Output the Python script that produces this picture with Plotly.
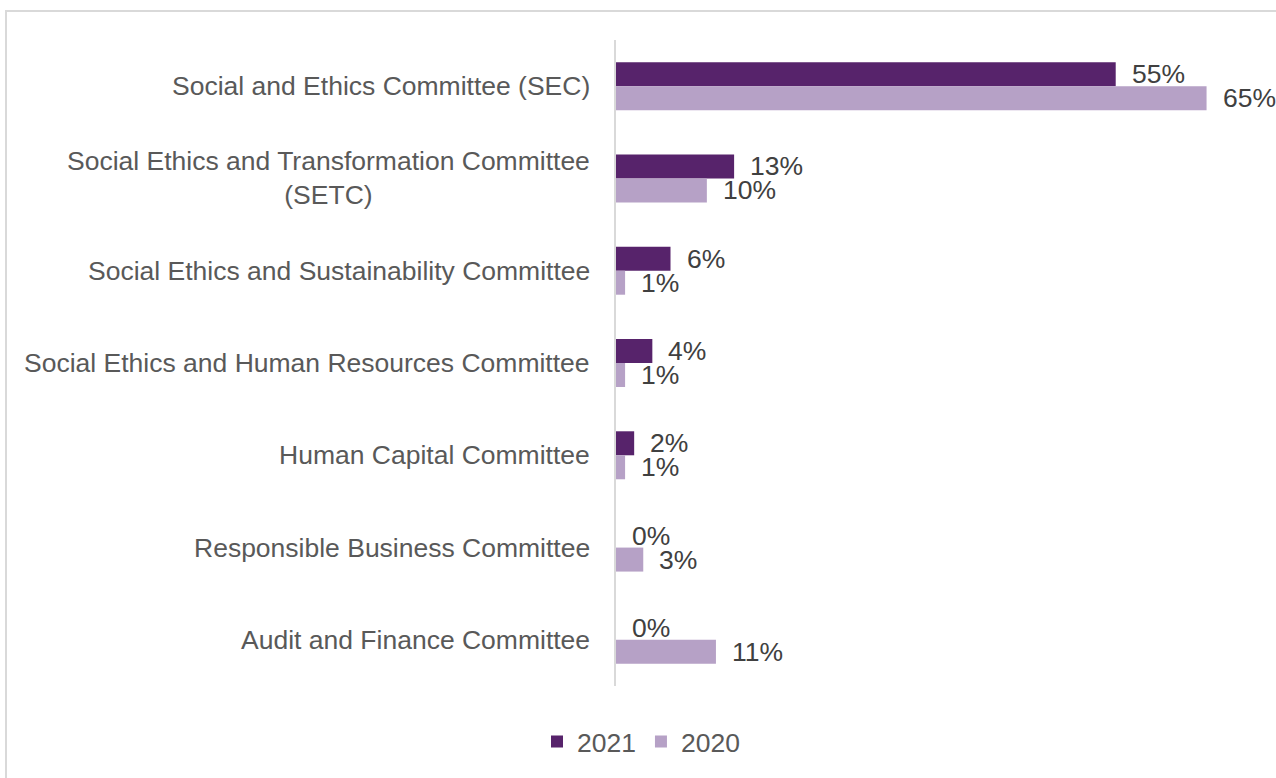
import plotly.graph_objects as go

# Committee names (top to bottom) and share of companies per year (%)
categories = [
    "Social and Ethics Committee (SEC)",
    "Social Ethics and Transformation Committee<br>(SETC)",
    "Social Ethics and Sustainability Committee",
    "Social Ethics and Human Resources Committee",
    "Human Capital Committee",
    "Responsible Business Committee",
    "Audit and Finance Committee",
]
values_2021 = [55, 13, 6, 4, 2, 0, 0]
values_2020 = [65, 10, 1, 1, 1, 3, 11]
series_names = ["2021", "2020"]

COLOR_2021 = "#57236B"
COLOR_2020 = "#B6A1C6"
LABEL_COLOR = "#595959"
VALUE_COLOR = "#404040"
FONT = "Liberation Sans, Arial, sans-serif"
FONT_SIZE = 26.5

W, H = 1276, 778
M_L, M_R, M_T, M_B = 616, 24, 40, 90
plot_w = W - M_L - M_R
plot_h = H - M_T - M_B

fig = go.Figure()
fig.add_trace(go.Bar(
    name=series_names[0], y=categories, x=values_2021, orientation="h",
    marker=dict(color=COLOR_2021, line=dict(width=0)), hoverinfo="skip",
))
fig.add_trace(go.Bar(
    name=series_names[1], y=categories, x=values_2020, orientation="h",
    marker=dict(color=COLOR_2020, line=dict(width=0)), hoverinfo="skip",
))

bar_half = 0.13  # half of one bar's thickness in category units
annotations = []
for i, cat in enumerate(categories):
    # category label, centred lines for wrapped names
    annotations.append(dict(
        xref="paper", yref="y", x=0, y=i, text=cat, showarrow=False,
        xanchor="right", yanchor="middle", align="center", xshift=-24,
        font=dict(family=FONT, size=FONT_SIZE, color=LABEL_COLOR),
    ))
    for vals, off in ((values_2021, -bar_half), (values_2020, bar_half)):
        annotations.append(dict(
            xref="x", yref="y", x=vals[i], y=i + off, text=f"{vals[i]}%",
            showarrow=False, xanchor="left", yanchor="middle", xshift=14,
            font=dict(family=FONT, size=FONT_SIZE, color=VALUE_COLOR),
        ))

fig.update_layout(
    width=W, height=H,
    margin=dict(l=M_L, r=M_R, t=M_T, b=M_B, pad=0),
    paper_bgcolor="white", plot_bgcolor="white",
    barmode="group", bargap=0.48, bargroupgap=0,
    font=dict(family=FONT, size=FONT_SIZE, color=LABEL_COLOR),
    xaxis=dict(range=[0, 70], visible=False, fixedrange=True),
    yaxis=dict(
        autorange="reversed", showticklabels=False, ticks="",
        showgrid=False, zeroline=False,
        showline=True, linecolor="#D9D9D9", linewidth=2,
    ),
    legend=dict(
        orientation="h", x=(641 - M_L) / plot_w, xanchor="center",
        y=(M_T + plot_h - 744) / plot_h, yanchor="middle",
        font=dict(family=FONT, size=FONT_SIZE, color=LABEL_COLOR),
        itemwidth=30, traceorder="normal",
    ),
    annotations=annotations,
    shapes=[dict(
        type="rect", xref="paper", yref="paper", layer="below",
        x0=(6 - M_L) / plot_w, x1=(W + 10 - M_L) / plot_w,
        y0=(M_T + plot_h - (H + 10)) / plot_h, y1=(M_T + plot_h - 11) / plot_h,
        line=dict(color="#D9D9D9", width=2), fillcolor="rgba(0,0,0,0)",
    )],
)

fig.write_html("out.html", config={"displayModeBar": False})
